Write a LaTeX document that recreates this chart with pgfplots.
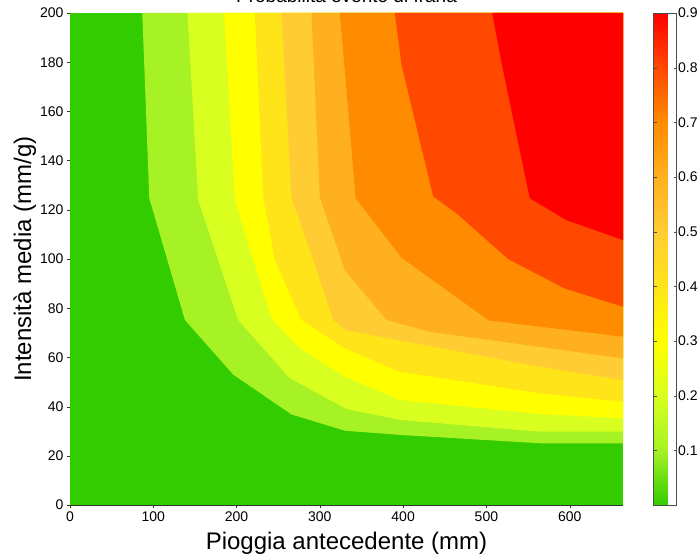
\documentclass[border=0pt]{standalone}
\usepackage{fontspec}
\setmainfont{Liberation Sans}
\usepackage{pgfplots}
\pgfplotsset{compat=1.18}

% band colours, from the lowest probability class to the highest
\definecolor{c0}{RGB}{51,204,0}
\definecolor{c1}{RGB}{166,242,36}
\definecolor{c2}{RGB}{216,255,31}
\definecolor{c3}{RGB}{255,255,0}
\definecolor{c4}{RGB}{255,228,26}
\definecolor{c5}{RGB}{255,204,51}
\definecolor{c6}{RGB}{255,176,31}
\definecolor{c7}{RGB}{255,140,0}
\definecolor{c8}{RGB}{255,72,0}
\definecolor{c9}{RGB}{255,0,0}

\pgfplotsset{/pgf/number format/assume math mode=true}

\begin{document}
\begin{tikzpicture}
\begin{axis}[
  scale only axis, width=553pt, height=492pt,
  xmin=0, xmax=664, ymin=0, ymax=200,
  xtick={0,100,...,600}, ytick={0,20,...,200},
  axis on top,
  axis x line*=bottom, axis y line*=left,
  y axis line style={draw=none},
  x axis line style={black!80, line width=0.8pt},
  tick align=outside, major tick length=3pt,
  tick style={black!80},
  tick label style={font=\fontsize{14}{16}\selectfont},
  title={Probabilità evento di frana},
  title style={at={(axis description cs:0.5,1)}, anchor=base, yshift=4pt, font=\fontsize{19}{22}\selectfont},
  xlabel={Pioggia antecedente (mm)},
  xlabel style={at={(axis description cs:0.5,0)}, anchor=base, yshift=-44pt, font=\fontsize{24}{28}\selectfont},
  ylabel={Intensità media (mm/g)},
  ylabel style={at={(axis description cs:-0.055,0.5)}, anchor=south, font=\fontsize{24}{28}\selectfont},
  colormap={frana}{rgb255=(51,204,0) rgb255=(166,242,36) rgb255=(216,255,31)
    rgb255=(255,255,0) rgb255=(255,228,26) rgb255=(255,204,51) rgb255=(255,176,31)
    rgb255=(255,140,0) rgb255=(255,72,0) rgb255=(255,0,0)},
  point meta min=0, point meta max=0.9,
  colorbar,
  colorbar style={
    at={(parent axis.north east)}, anchor=north west, xshift=22pt,
    width=23pt,
    ytick={0.1,0.2,0.3,0.4,0.5,0.6,0.7,0.8,0.9},
    yticklabels={0.1,0.2,0.3,0.4,0.5,0.6,0.7,0.8,0.9},
    tick align=inside, major tick length=3pt,
    tick style={black!70},
    axis line style={black!70},
    yticklabel style={font=\fontsize{14}{16}\selectfont, xshift=-2pt},
  },
  no markers,
]
\coordinate (SW) at (rel axis cs:0,0);

% lowest class fills the whole domain
\addplot[fill=c0, draw=none] coordinates {(0,0) (664,0) (664,200) (0,200)};

% each class region above a contour level, drawn on top of the one below
\addplot[fill=c1, draw=none] coordinates {
  (86.8,200) (95.2,124.7) (138,75.2) (196,53) (266,36.8) (330,30.2)
  (396,28.5) (564,25.1) (664,25.1) (664,200)};
\addplot[fill=c2, draw=none] coordinates {
  (141,200) (154,124) (202,75.2) (264,51.5) (332,39) (396,34.6)
  (564,29.8) (664,29.8) (664,200)};
\addplot[fill=c3, draw=none] coordinates {
  (185,200) (198,124) (220,99.6) (242,75.9) (276,63.7) (330,52.2)
  (396,42.7) (564,37) (664,35.2) (664,200)};
\addplot[fill=c4, draw=none] coordinates {
  (222,200) (232,125.3) (246,99.6) (278,75.2) (330,63.7) (396,54.2)
  (564,45.4) (664,42) (664,200)};
\addplot[fill=c5, draw=none] coordinates {
  (254,200) (266,124.7) (290,101.6) (316,75.2) (332,71) (564,56.2)
  (664,50.8) (664,200)};
\addplot[fill=c6, draw=none] coordinates {
  (290,200) (300,125) (330,95.5) (380,75.2) (432,70.4) (664,59.6) (664,200)};
\addplot[fill=c7, draw=none] coordinates {
  (324,200) (343,124.7) (398,100.5) (503,75) (664,68.4) (664,200)};
\addplot[fill=c8, draw=none] coordinates {
  (390,200) (398,179) (436,125.5) (466,118) (526,100) (594,88)
  (664,80.6) (664,200)};
\addplot[fill=c9, draw=none] coordinates {
  (507,200) (518,180) (552,124.7) (596,115.8) (664,107.7) (664,200)};
\end{axis}
\pgfresetboundingbox
\path[use as bounding box] ([shift={(-70pt,-54pt)}]SW) rectangle ([shift={(630pt,505pt)}]SW);
\end{tikzpicture}
\end{document}
